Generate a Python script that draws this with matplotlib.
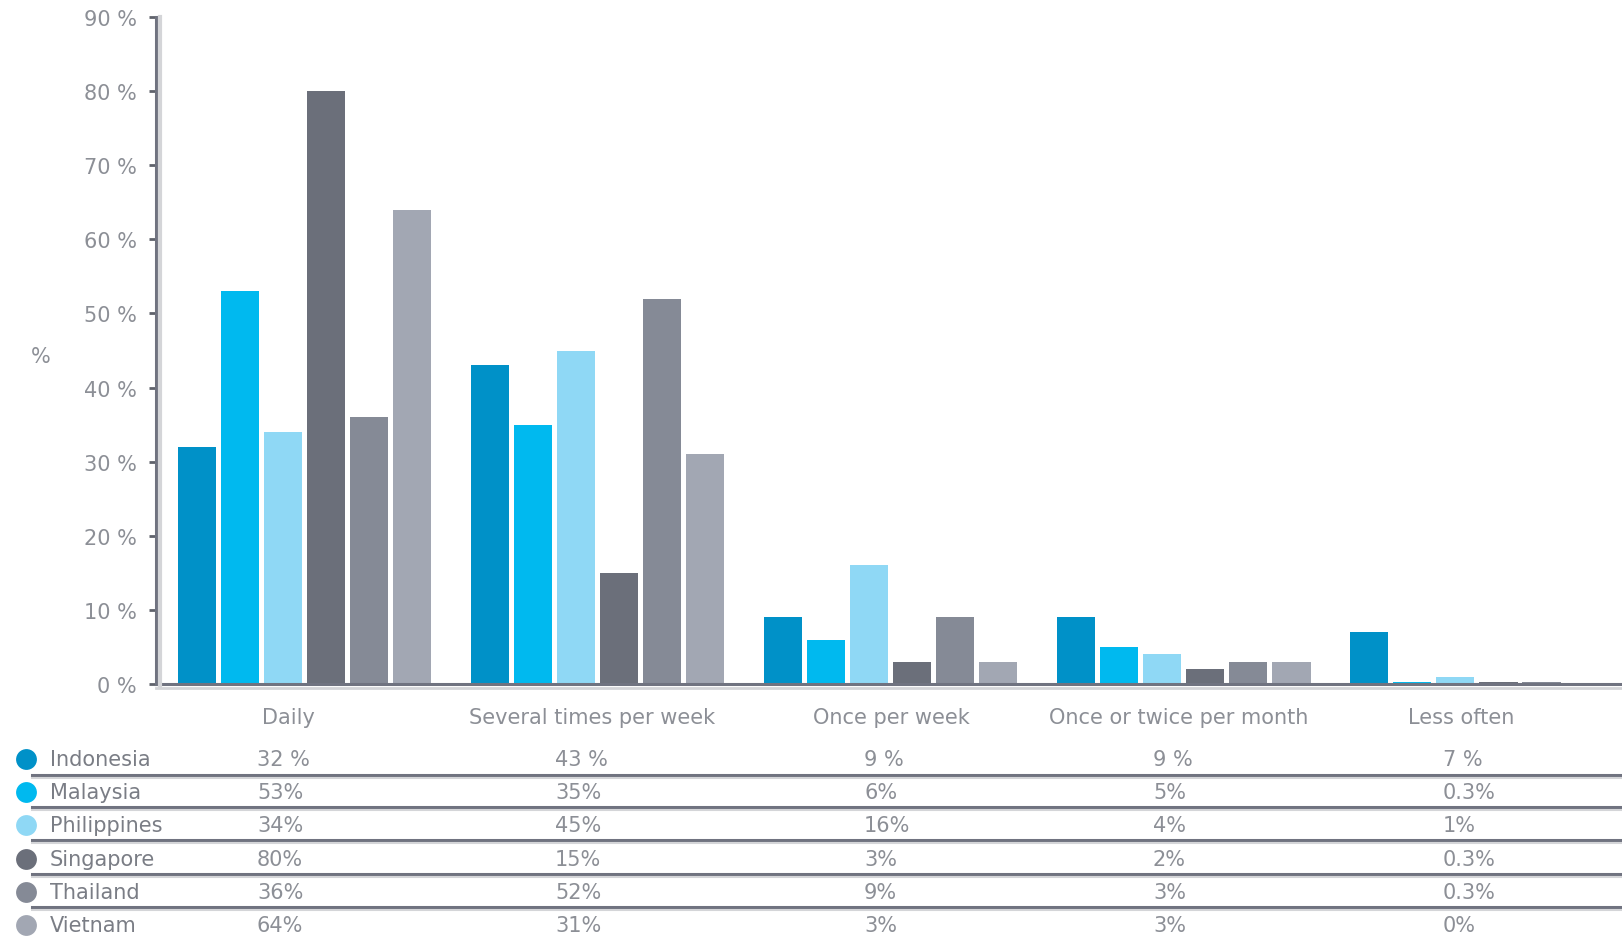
import numpy as np
import matplotlib.pyplot as plt
from matplotlib.lines import Line2D

# Survey frequencies by country (percent of respondents)
frequencies = ["Daily", "Several times per week", "Once per week",
               "Once or twice per month", "Less often"]
countries = ["Indonesia", "Malaysia", "Philippines", "Singapore", "Thailand", "Vietnam"]
indonesia = [32, 43, 9, 9, 7]
malaysia = [53, 35, 6, 5, 0.3]
philippines = [34, 45, 16, 4, 1]
singapore = [80, 15, 3, 2, 0.3]
thailand = [36, 52, 9, 3, 0.3]
vietnam = [64, 31, 3, 3, 0]
series = [indonesia, malaysia, philippines, singapore, thailand, vietnam]
colors = ["#0091c8", "#00b9ef", "#8fd8f5", "#6b6f7a", "#858a96", "#a2a7b3"]

W, H = 1622, 937
TEXT = "#8c8f96"
DARK = "#707380"
LIGHT = "#d4d5d8"


def fx(px):
    return px / W


def fy(py):
    return 1 - py / H


def fmt(v, spaced=False):
    return f"{v:g} %" if spaced else f"{v:g}%"


fig = plt.figure(figsize=(W / 100, H / 100), dpi=100)
ax = fig.add_axes([fx(156), fy(685), 1 - fx(156), (685 - 18) / H])

x = np.arange(len(frequencies))
step, width = 0.1468, 0.13
for i, (vals, c) in enumerate(zip(series, colors)):
    ax.bar(x + (i - 2.5) * step, vals, width=width, color=c, zorder=2)

ax.set_xlim(-0.508, 4.495)
ax.set_ylim(0, 90)
ax.set_yticks(range(0, 91, 10))
ax.set_yticklabels([f"{t} %" for t in range(0, 91, 10)])
ax.set_xticks([])
ax.tick_params(axis="y", length=5, width=2, color="#5f626b", pad=9,
               labelsize=15, labelcolor=TEXT)
for side in ["top", "right"]:
    ax.spines[side].set_visible(False)
for side in ["left", "bottom"]:
    ax.spines[side].set_color(DARK)
    ax.spines[side].set_linewidth(2.2)
    ax.spines[side].set_zorder(3)

# soft shadow lines next to the axis lines
fig.add_artist(Line2D([fx(159.5), fx(159.5)], [fy(688), fy(18)], color=LIGHT, lw=3))
fig.add_artist(Line2D([fx(156), 1], [fy(688.5), fy(688.5)], color=LIGHT, lw=2))

fig.text(fx(41), fy(357), "%", fontsize=15, color=TEXT, ha="center", va="center")

# table under the chart
header_x = [288, 592, 891, 1179, 1461]
value_x = [257, 555, 864, 1153, 1443]
row_y = [760, 793, 826, 860, 893, 926]
sep_y = [776, 808, 841, 875, 908]

for hx, name in zip(header_x, frequencies):
    fig.text(fx(hx), fy(718), name, fontsize=15, color=TEXT, ha="center", va="center")

for r, (name, vals, c) in enumerate(zip(countries, series, colors)):
    y = fy(row_y[r])
    fig.add_artist(Line2D([fx(26)], [y], marker="o", markersize=15,
                          color=c, markeredgewidth=0))
    fig.text(fx(50), y, name, fontsize=15, color="#7a7d85", va="center")
    for vx, v in zip(value_x, vals):
        fig.text(fx(vx), y, fmt(v, spaced=(r == 0)), fontsize=15, color=TEXT, va="center")

for sy in sep_y:
    fig.add_artist(Line2D([fx(32), 1], [fy(sy), fy(sy)], color=DARK, lw=2.2))
    fig.add_artist(Line2D([fx(32), 1], [fy(sy + 3), fy(sy + 3)], color=LIGHT, lw=1.5))

plt.savefig("out.png", dpi=100)
plt.close()
